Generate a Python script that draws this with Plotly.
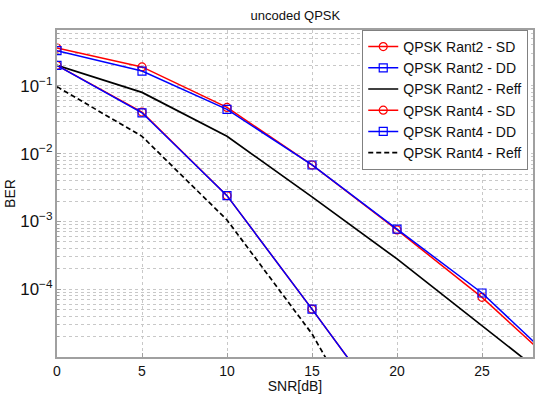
import plotly.graph_objects as go

snr = [0, 5, 10, 15, 20, 25, 30]
rant2_sd = [0.36, 0.19, 0.048, 0.0068, 7.5e-4, 7.6e-5, 5.4e-6]
rant2_dd = [0.33, 0.165, 0.045, 0.0068, 7.7e-4, 8.8e-5, 5.8e-6]
rant2_reff = [0.2, 0.08, 0.018, 0.0023, 2.8e-4, 2.95e-5, 3e-6]
rant4_sd = [0.2, 0.041, 0.0024, 5.1e-5, 1e-6]
rant4_dd = [0.2, 0.040, 0.0024, 5.1e-5, 1e-6]
rant4_reff = [0.097, 0.018, 0.00105, 2.2e-5, 1.4e-7]
snr4 = [0, 5, 10, 15, 20]

x_tickvals = [0, 5, 10, 15, 20, 25]

FONT = "Liberation Sans, Arial, sans-serif"
fig = go.Figure()

def add(x, y, name, color, dash="solid", symbol=None, width=1.5):
    mode = "lines+markers" if symbol else "lines"
    kw = {}
    if symbol:
        kw["marker"] = dict(symbol=symbol, size=8, color=color,
                            line=dict(color=color, width=1.2))
    fig.add_trace(go.Scatter(
        x=x, y=y, name=name, mode=mode,
        line=dict(color=color, width=width, dash=dash), **kw))

add(snr, rant2_sd, "QPSK Rant2 - SD", "#ff0000", symbol="circle-open")
add(snr, rant2_dd, "QPSK Rant2 - DD", "#0000ff", symbol="square-open")
add(snr, rant2_reff, "QPSK Rant2 - Reff", "#000000", width=1.7)
add(snr4, rant4_sd, "QPSK Rant4 - SD", "#ff0000", symbol="circle-open")
add(snr4, rant4_dd, "QPSK Rant4 - DD", "#0000ff", symbol="square-open")
add(snr4, rant4_reff, "QPSK Rant4 - Reff", "#000000", dash="5px,3px", width=1.7)

grid_col = "#c8c8c8"
fig.update_layout(
    width=539, height=394,
    margin=dict(l=57, r=4, t=30, b=31),
    paper_bgcolor="white", plot_bgcolor="white",
    font=dict(family=FONT, size=13, color="#111"),
    title=dict(text="uncoded QPSK", x=0.548, xanchor="center", y=0.962,
               yanchor="middle", font=dict(size=13, family=FONT)),
    showlegend=True,
    legend=dict(x=0.99, y=1.0, xanchor="right", yanchor="top",
                bgcolor="white", bordercolor="#808080", borderwidth=1,
                font=dict(size=14, family=FONT), tracegroupgap=0,
                itemwidth=30),
    xaxis=dict(range=[0, 28], tickvals=x_tickvals, showgrid=True,
               gridcolor=grid_col, griddash="dot", gridwidth=1,
               showline=True, linecolor="#a0a0a0", linewidth=1.5, mirror=True,
               ticks="inside", ticklen=4, tickcolor="#a0a0a0",
               tickfont=dict(size=14, family=FONT),
               title=dict(text="SNR[dB]", standoff=2, font=dict(size=14, family=FONT)),
               zeroline=False),
    yaxis=dict(type="log", range=[-4.999, -0.177], tickmode="linear", tick0=0, dtick=1,
               exponentformat="power", showexponent="all",
               showgrid=True, gridcolor=grid_col, griddash="dot", gridwidth=1,
               minor=dict(showgrid=True, gridcolor=grid_col, griddash="dot", dtick="D1",
                          ticks="inside", ticklen=2, tickcolor="#a0a0a0"),
               showline=True, linecolor="#a0a0a0", linewidth=1.5, mirror=True,
               ticks="inside", ticklen=4, tickcolor="#a0a0a0",
               tickfont=dict(size=13.5, family=FONT),
               title=dict(text="BER", standoff=1, font=dict(size=14, family=FONT)),
               zeroline=False),
)

fig.write_html("out.html")
